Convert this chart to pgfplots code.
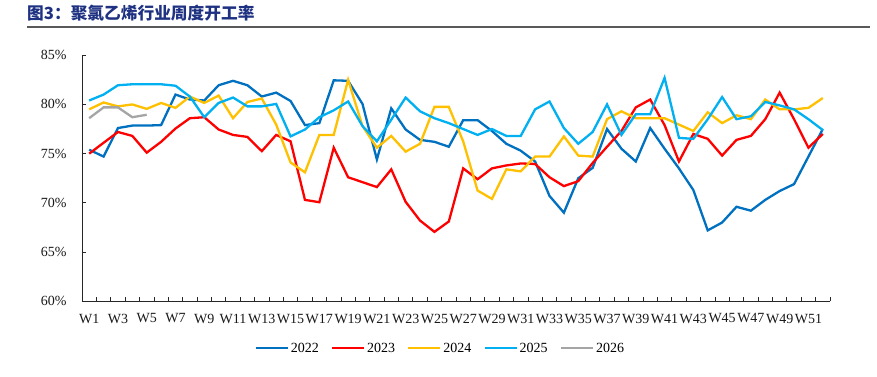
\documentclass[border=0pt]{standalone}
\usepackage{fontspec}
\setmainfont{Liberation Serif}
\newfontfamily\cjk{Noto Sans CJK SC}
\usepackage{pgfplots}
\pgfplotsset{compat=1.18}
\definecolor{c22}{RGB}{0,112,192}
\definecolor{c23}{RGB}{255,0,0}
\definecolor{c24}{RGB}{255,192,0}
\definecolor{c25}{RGB}{0,176,240}
\definecolor{c26}{RGB}{165,165,165}
\definecolor{titleblue}{RGB}{31,50,130}
\begin{document}
\begin{tikzpicture}[x=1pt,y=1pt]
\path[use as bounding box] (0,0) rectangle (877,377);
\node[anchor=west, inner sep=0, text=titleblue] at (27,364) {\cjk\bfseries\fontsize{16.7}{16.7}\selectfont 图3：聚氯乙烯行业周度开工率};
\draw[line width=1.6pt, color=black!65] (27,350) -- (870,350);
\begin{axis}[
  at={(57,77)}, anchor=south west,
  width=748pt, height=246pt, scale only axis,
  xmin=0.5, xmax=52.5, ymin=60, ymax=85,
  axis x line*=bottom, axis y line*=left,
  axis line style={-, black!85, line width=0.8pt},
  tick align=inside, major tick length=4pt,
  tick style={black!85, line width=0.8pt},
  ytick={60,65,70,75,80,85},
  yticklabels={60\%,65\%,70\%,75\%,80\%,85\%},
  xtick={0.5,1.5,...,52.5},
  xticklabels={},
  extra x ticks={1,3,...,51},
  extra x tick labels={W1,W3,W5,W7,W9,W11,W13,W15,W17,W19,W21,W23,W25,W27,W29,W31,W33,W35,W37,W39,W41,W43,W45,W47,W49,W51},
  extra x tick style={tick style={draw=none}},
  ticklabel style={font=\fontsize{14}{14}\selectfont, text=black!90},
  yticklabel style={xshift=-12pt},
  xticklabel style={yshift=-9pt},
  every axis plot/.append style={line width=2.3pt},
  legend columns=5,
  legend style={draw=none, at={(0.479,-0.191)}, anchor=center,
    font=\fontsize{14}{14}\selectfont,
    /tikz/every even column/.append style={column sep=10pt}},
  legend image code/.code={\draw[#1] (0pt,0pt) -- (32pt,0pt);},
]
\addplot[c22] coordinates {(1,75.4)(2,74.7)(3,77.6)(4,77.85)(5,77.85)(6,77.9)(7,81.0)(8,80.5)(9,80.4)(10,81.95)(11,82.4)(12,81.95)(13,80.8)(14,81.2)(15,80.35)(16,77.9)(17,78.1)(18,82.45)(19,82.4)(20,80.05)(21,74.4)(22,79.6)(23,77.45)(24,76.4)(25,76.2)(26,75.7)(27,78.4)(28,78.4)(29,77.3)(30,76.0)(31,75.3)(32,74.2)(33,70.7)(34,69.0)(35,72.5)(36,73.55)(37,77.5)(38,75.5)(39,74.2)(40,77.6)(41,75.5)(42,73.5)(43,71.3)(44,67.2)(45,68.0)(46,69.6)(47,69.2)(48,70.3)(49,71.2)(50,71.9)(51,74.7)(52,77.5)};
\addlegendentry{2022}
\addplot[c23] coordinates {(1,75.0)(2,76.1)(3,77.2)(4,76.8)(5,75.1)(6,76.2)(7,77.55)(8,78.6)(9,78.7)(10,77.45)(11,76.9)(12,76.7)(13,75.25)(14,76.9)(15,76.25)(16,70.3)(17,70.06)(18,75.6)(19,72.6)(20,72.1)(21,71.6)(22,73.4)(23,70.1)(24,68.2)(25,67.05)(26,68.1)(27,73.5)(28,72.4)(29,73.5)(30,73.8)(31,74.0)(32,73.95)(33,72.6)(34,71.7)(35,72.2)(36,74.05)(37,75.7)(38,77.3)(39,79.7)(40,80.5)(41,77.9)(42,74.2)(43,77.0)(44,76.5)(45,74.8)(46,76.4)(47,76.8)(48,78.5)(49,81.2)(50,78.5)(51,75.6)(52,77.0)};
\addlegendentry{2023}
\addplot[c24] coordinates {(1,79.5)(2,80.2)(3,79.8)(4,80.0)(5,79.55)(6,80.15)(7,79.65)(8,80.8)(9,80.15)(10,80.9)(11,78.6)(12,80.25)(13,80.6)(14,77.95)(15,74.1)(16,73.1)(17,76.9)(18,76.9)(19,82.5)(20,77.8)(21,75.6)(22,76.8)(23,75.2)(24,76.0)(25,79.75)(26,79.75)(27,76.25)(28,71.25)(29,70.4)(30,73.4)(31,73.2)(32,74.7)(33,74.7)(34,76.75)(35,74.8)(36,74.7)(37,78.5)(38,79.3)(39,78.6)(40,78.6)(41,78.6)(42,77.95)(43,77.3)(44,79.2)(45,78.1)(46,78.9)(47,78.5)(48,80.5)(49,79.5)(50,79.5)(51,79.65)(52,80.65)};
\addlegendentry{2024}
\addplot[c25] coordinates {(1,80.4)(2,81.0)(3,81.95)(4,82.05)(5,82.05)(6,82.05)(7,81.9)(8,80.8)(9,78.7)(10,80.15)(11,80.7)(12,79.8)(13,79.8)(14,80.05)(15,76.75)(16,77.45)(17,78.7)(18,79.4)(19,80.3)(20,77.8)(21,76.25)(22,78.45)(23,80.7)(24,79.3)(25,78.6)(26,78.1)(27,77.5)(28,76.9)(29,77.5)(30,76.8)(31,76.8)(32,79.5)(33,80.3)(34,77.6)(35,76.0)(36,77.2)(37,80.0)(38,76.9)(39,79.0)(40,79.0)(41,82.7)(42,76.6)(43,76.5)(44,78.5)(45,80.75)(46,78.5)(47,78.8)(48,80.25)(49,79.9)(50,79.5)(51,78.5)(52,77.4)};
\addlegendentry{2025}
\addplot[c26] coordinates {(1,78.6)(2,79.7)(3,79.7)(4,78.7)(5,78.95)};
\addlegendentry{2026}
\end{axis}
\end{tikzpicture}
\end{document}
